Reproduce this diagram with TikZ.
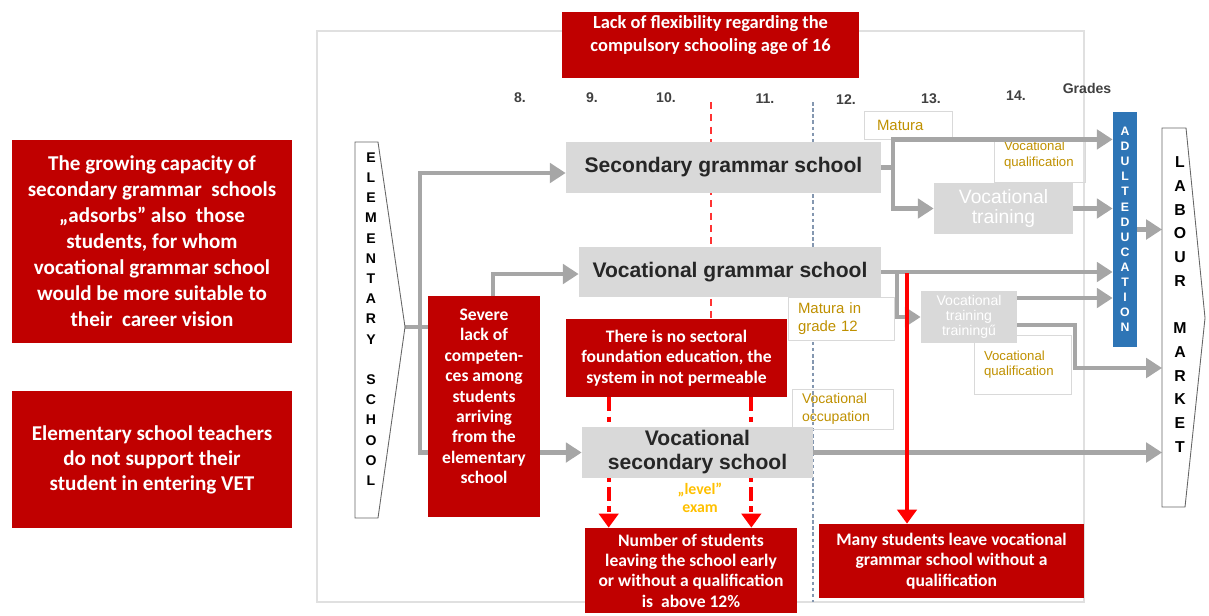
\documentclass[tikz,border=0pt]{standalone}
\usepackage{fontspec}
\setmainfont{Carlito}
\newfontfamily\arialfont{Liberation Sans}
\usepackage{xcolor}
\usepackage{tikz}
\usetikzlibrary{positioning, arrows.meta, calc, backgrounds}
\definecolor{tred}{RGB}{192,0,0}
\definecolor{tbright}{RGB}{255,0,0}
\definecolor{tgray}{RGB}{217,217,217}
\definecolor{tarrow}{RGB}{166,166,166}
\definecolor{tblue}{RGB}{46,117,182}
\definecolor{tgold}{RGB}{191,144,0}
\definecolor{tyellow}{RGB}{255,192,0}
\definecolor{tdot}{RGB}{132,151,176}

\begin{document}
\begin{tikzpicture}[x=0.02cm, y=-0.02cm, every node/.style={inner sep=2pt},
    redbox/.style={fill=tred, text=white, align=center, font=\bfseries\fontsize{10}{11.6}\selectfont},
    graybox/.style={fill=tgray, text=black!85, align=center, font=\arialfont\bfseries\fontsize{12}{13.7}\selectfont},
    trainbox/.style={fill=tgray, text=white, align=center, font=\arialfont\fontsize{11}{11.4}\selectfont},
    goldbox/.style={draw=black!15, line width=0.5pt, text=tgold, align=left, inner ysep=0pt},
    grade/.style={text=black!75, font=\arialfont\bfseries\fontsize{8}{9}\selectfont},
    letters/.style={align=center, font=\arialfont\bfseries\fontsize{8}{11.5}\selectfont},
    outline/.style={draw=black!60, line width=0.5pt},
    gline/.style={draw=tarrow, line width=2.5pt},
    garrow/.style={gline, -{Triangle[width=11pt,length=9pt]}},
    rdash/.style={draw=tbright!80, line width=1.2pt, dash pattern=on 4pt off 3pt},
    rdashdot/.style={draw=tbright, line width=2.4pt, dash pattern=on 8pt off 3pt on 3pt off 3pt, -{Triangle[width=11pt,length=8pt]}},
    rsolid/.style={draw=tbright, line width=2.4pt, -{Triangle[width=11pt,length=8pt]}},
    bdot/.style={draw=tdot, line width=0.6pt, dash pattern=on 2pt off 1.5pt}]
  \useasboundingbox (0,0) rectangle (1209,615);

  % Left problem boxes
  \node[redbox, minimum width=5.6cm, minimum height=4.06cm, font=\bfseries\fontsize{12}{14.8}\selectfont] (grow) at (152,241.5) {The growing capacity of\\secondary grammar\ \ schools\\„adsorbs” also\ \ those\\students, for whom\\vocational grammar school\\would be more suitable to\\their\ \ career vision};
  \node[redbox, minimum width=5.6cm, minimum height=2.74cm, font=\bfseries\fontsize{12}{14.2}\selectfont] (teach) at (152,459.5) {Elementary school teachers\\do not support their\\student in entering VET};

  % Grades
  \node[grade] (g8) at (520,98) {8.};
  \node[grade] (g9) at (592,98) {9.};
  \node[grade] (g10) at (666,98) {10.};
  \node[grade] (g11) at (765,99) {11.};
  \node[grade] (g12) at (846,100) {12.};
  \node[grade] (g13) at (931,99) {13.};
  \node[grade] (g14) at (1016,96) {14.};
  \node[grade] (grades) at (1087,88) {Grades};

  % Elementary school and labour market
  \coordinate (elemtip) at (405,327);
  \draw[outline] (355,142) -- (378,142) -- (elemtip) -- (378,518) -- (355,518) -- cycle;
  \node[letters] (elem) at (371,319) {E\\L\\E\\M\\E\\N\\T\\A\\R\\Y\\~\\S\\C\\H\\O\\O\\L};
  \coordinate (lmedge) at (1162,318);
  \draw[outline] (1162,128) -- (1186,128) -- (1205,318) -- (1185,507) -- (1162,507) -- cycle;
  \node[letters, font=\arialfont\bfseries\fontsize{9}{13.5}\selectfont] (labour) at (1180,304.5) {L\\A\\B\\O\\U\\R\\~\\M\\A\\R\\K\\E\\T};

  % Schools
  \node[graybox, minimum width=6.3cm, minimum height=1.02cm] (sgs) at (723.5,167.5) {Secondary grammar school};
  \node[graybox, minimum width=6.04cm, minimum height=1.0cm] (vgs) at (730,272) {Vocational grammar school};
  \node[graybox, minimum width=4.62cm, minimum height=1.02cm] (vss) at (697.5,452.5) {Vocational\\secondary school};
  \node[trainbox, minimum width=2.78cm, minimum height=1.02cm] (vtr) at (1003.5,208.5) {Vocational\\training};
  \node[trainbox, minimum width=1.92cm, minimum height=1.04cm, font=\arialfont\fontsize{8}{8.6}\selectfont] (vtr2) at (969,317) {Vocational\\training\\trainingű};
  \node[fill=tblue, minimum width=0.48cm, minimum height=4.7cm, text=white, align=center, font=\arialfont\bfseries\fontsize{7}{8.6}\selectfont] (adult) at (1125,229.5) {A\\D\\U\\L\\T\\E\\D\\U\\C\\A\\T\\I\\O\\N};
  \node[text=tyellow, align=center, font=\bfseries\fontsize{9}{10}\selectfont] (lvl) at (700,498) {„level”\\exam};

  % Problems
  \node[redbox, minimum width=5.94cm, minimum height=1.28cm, font=\bfseries\fontsize{10.5}{13}\selectfont] (flex) at (710.5,45) {Lack of flexibility regarding the\\compulsory schooling age of 16\\\mbox{}};
  \node[redbox, minimum width=2.24cm, minimum height=4.42cm] (severe) at (484,406.5) {Severe\\lack of\\competen-\\ces among\\students\\arriving\\from the\\elementary\\school\\\mbox{}};
  \node[redbox, minimum width=4.42cm, minimum height=1.56cm] (sector) at (676.5,358) {There is no sectoral\\foundation education, the\\system in not permeable};
  \node[redbox, minimum width=4.24cm, minimum height=1.7cm] (early) at (691,570.5) {Number of students\\leaving the school early\\or without a qualification\\is\ \ above 12\%};
  \node[redbox, minimum width=5.3cm, minimum height=1.48cm] (leave) at (951.5,561) {Many students leave vocational\\grammar school without a\\qualification};

  % Drop out of vocational grammar school
  \coordinate (leavetop) at (907,273);
  \draw[rsolid] (leavetop) -- (leavetop |- leave.north);

  \begin{scope}[on background layer]
    % frame and guide lines
    \draw[black!12, line width=0.8pt] (317,31) rectangle (1084,602);
    \coordinate (gr12) at (813,102);
    \coordinate (gr12b) at (813,602);
    \draw[bdot] (gr12) -- (gr12b);
    \coordinate (flextop) at (711,102);
    \draw[rdash] (flextop) -- (flextop |- sector.north);
    \coordinate (dl) at ($(sector.south west)+(43,0)$);
    \coordinate (dr) at ($(sector.south east)+(-36,0)$);
    \draw[rdashdot] (dl) -- (dl |- early.north);
    \draw[rdashdot] (dr) -- (dr |- early.north);

    % Qualifications
    \node[goldbox, minimum height=0.56cm, inner xsep=0.26cm, text width=1.24cm, font=\arialfont\fontsize{8.5}{10}\selectfont] (mat) at (908,125) {Matura};
    \node[goldbox, minimum height=0.76cm, inner xsep=0.2cm, text width=1.42cm, font=\arialfont\fontsize{7.5}{9}\selectfont] (vq1) at (1039.5,161.5) {Vocational\\qualification\\\mbox{}};
    \node[goldbox, fill=white, minimum height=0.86cm, inner xsep=0.2cm, text width=1.72cm, font=\arialfont\fontsize{8.5}{10.2}\selectfont] (mg12) at (841,318.5) {Matura in\\grade 12};
    \node[goldbox, minimum height=0.8cm, inner xsep=0.2cm, text width=1.62cm, font=\arialfont\fontsize{8}{10}\selectfont] (voc) at (842.5,409) {Vocational\\occupation};
    \node[goldbox, minimum height=1.18cm, inner xsep=0.2cm, text width=1.54cm, font=\arialfont\fontsize{7.5}{9}\selectfont] (vq2) at (1022.5,364.5) {Vocational\\qualification};

    % Pathways
    \coordinate (split) at (420,327);
    \coordinate (vbend) at (493,327);
    \coordinate (sgsfork) at (893,167.5);
    \coordinate (vgsfork) at (897,272);
    \coordinate (v2a) at (1017,298);
    \coordinate (v2b) at (1017,325);
    \coordinate (qbend) at (1075,368);
    \draw[gline] (elemtip) -- (vbend);
    \draw[garrow] (split) |- ($(sgs.west)+(0,5.5)$);
    \draw[garrow] (split) |- (vss.west);
    \draw[garrow] (vbend) |- ($(vgs.west)+(0,2)$);
    \draw[garrow] (sgs.east) -- (sgsfork) |- (adult.west |- mat.south);
    \draw[garrow] (sgsfork) |- (vtr.west);
    \draw[garrow] (vtr.east) -- (adult.west |- vtr.east);
    \draw[garrow] (adult.east) -- (adult.east -| lmedge);
    \draw[garrow] (vgs.east) -- (adult.west |- vgs.east);
    \draw[garrow] (vgsfork) |- (vtr2.west);
    \draw[garrow] (v2a) -- (adult.west |- v2a);
    \draw[garrow] (v2b) -| (qbend) -- (qbend -| lmedge);
    \draw[garrow] (vss.east) -- (vss.east -| lmedge);
  \end{scope}
\end{tikzpicture}
\end{document}
